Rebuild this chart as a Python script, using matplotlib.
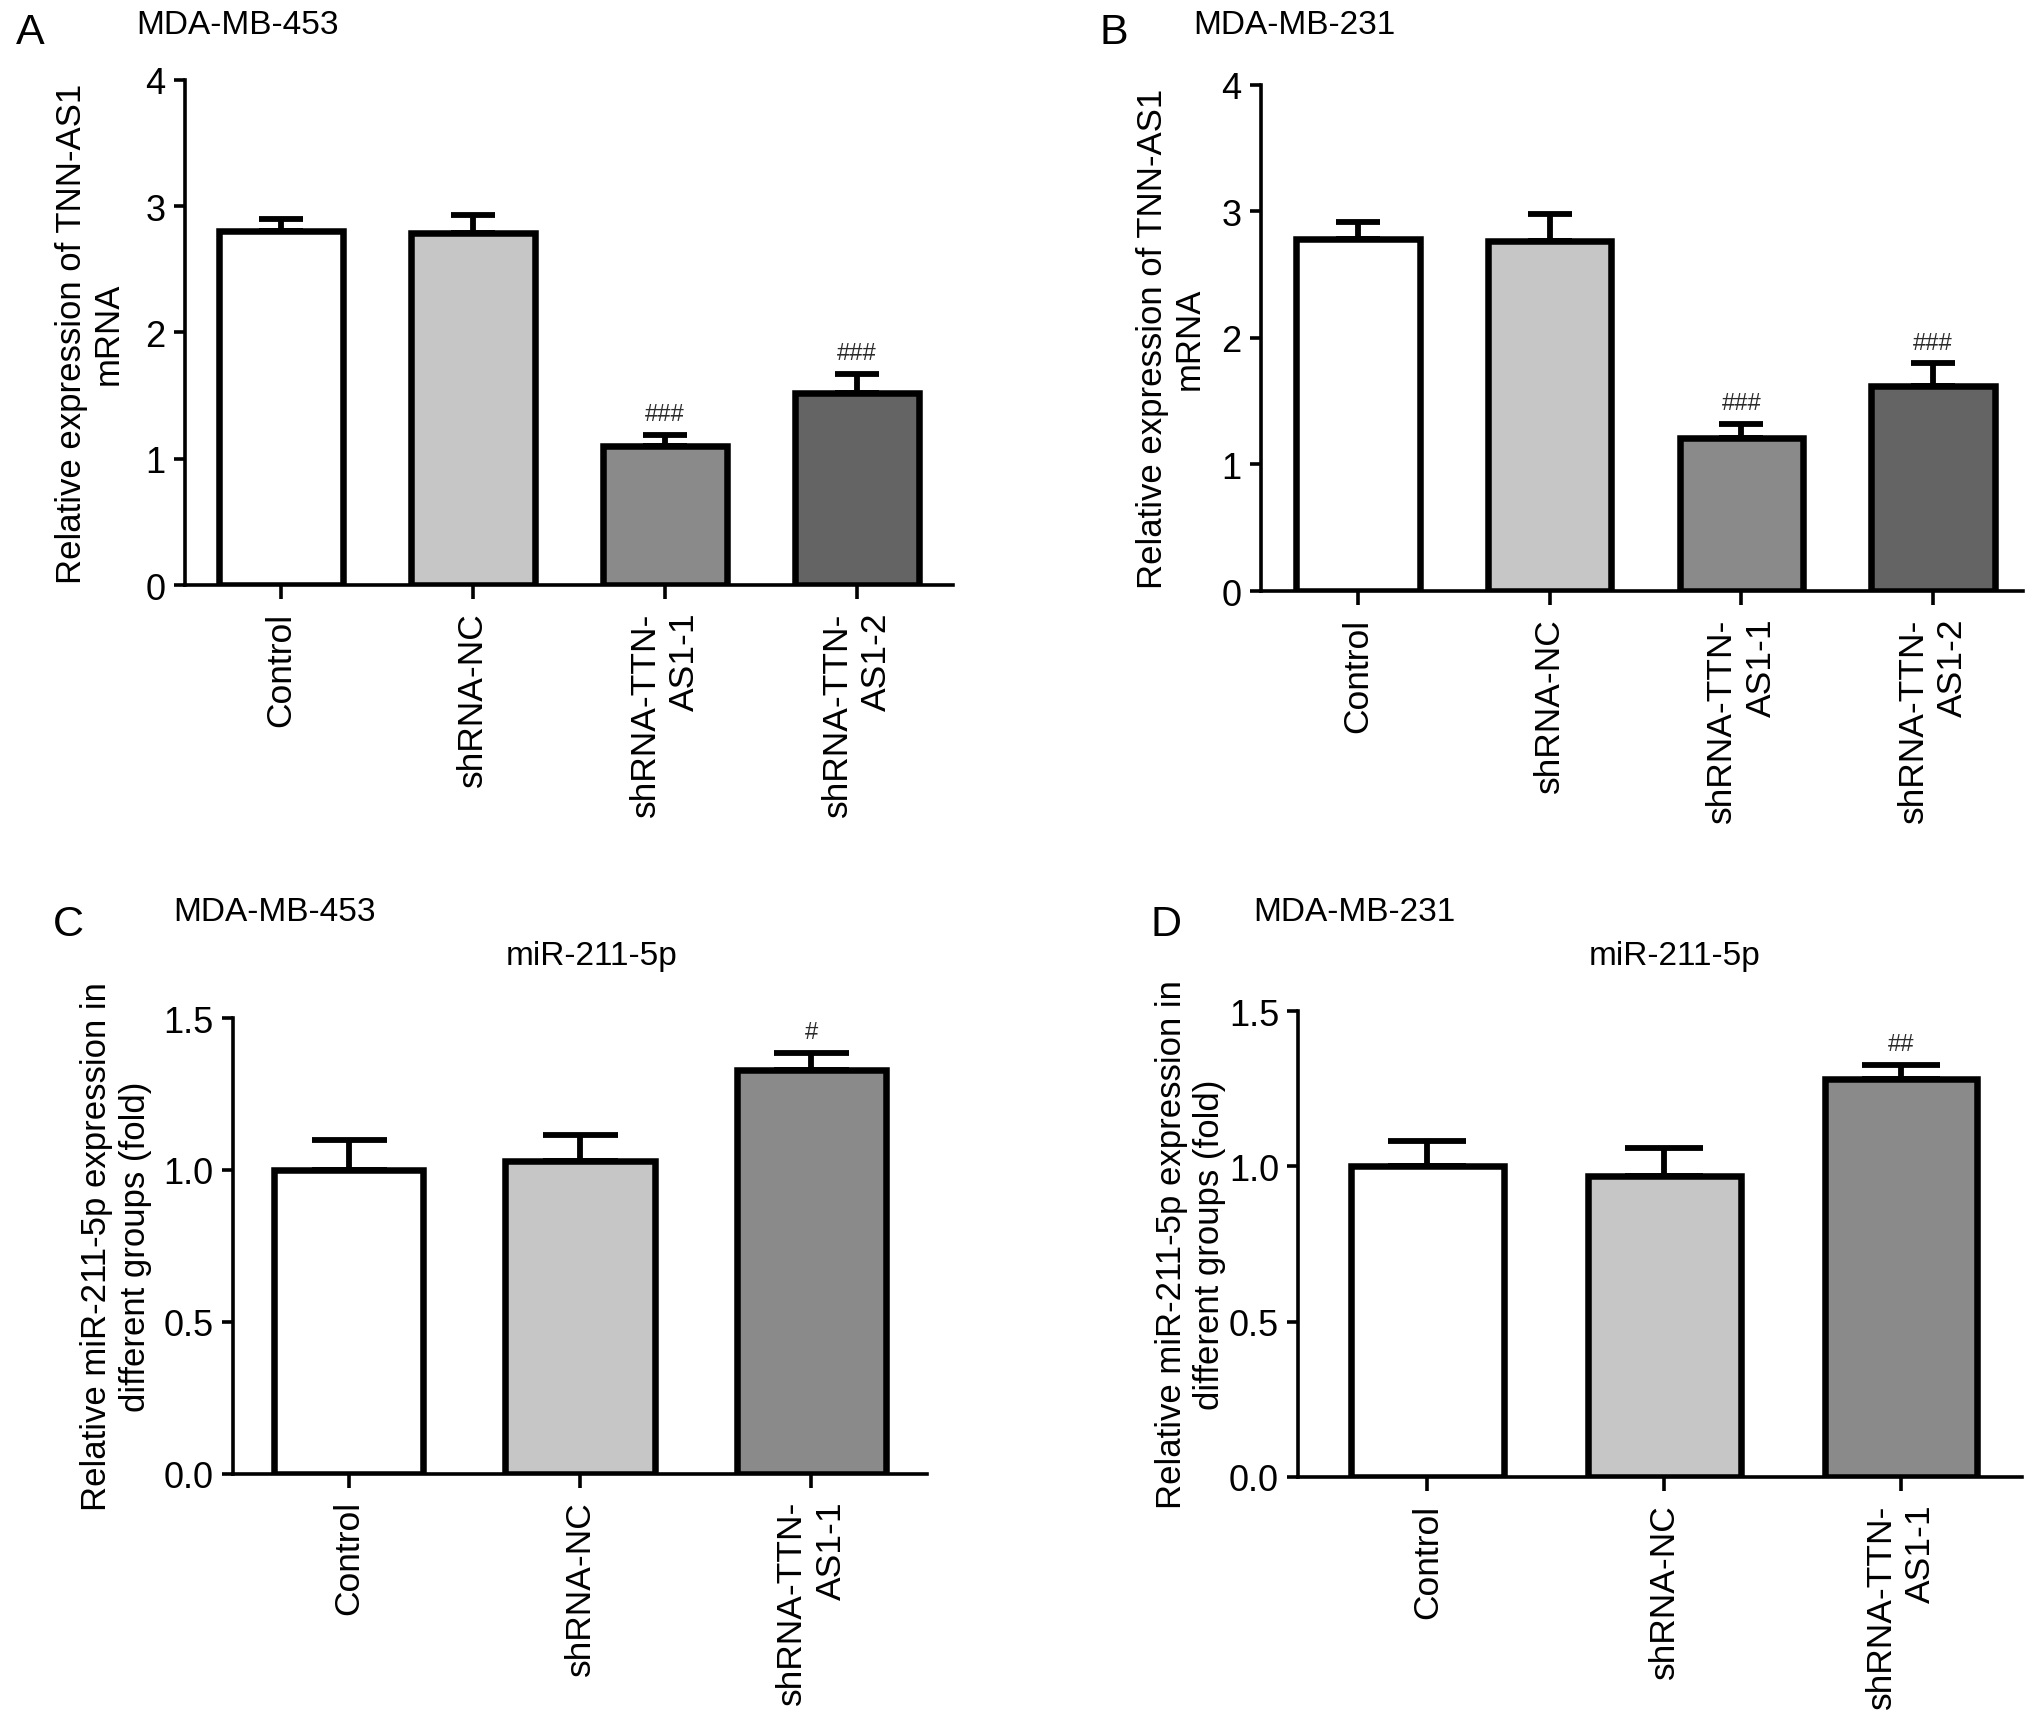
import matplotlib
matplotlib.use("Agg")
import matplotlib.pyplot as plt

plt.rcParams['font.family'] = ['Liberation Sans', 'DejaVu Sans']

# panel A / B: TNN-AS1 mRNA
groups4 = ['Control', 'shRNA-NC', 'shRNA-TTN-\nAS1-1', 'shRNA-TTN-\nAS1-2']
a_vals = [2.80, 2.79, 1.10, 1.52]
a_err = [0.10, 0.14, 0.09, 0.15]
a_marks = ['', '', '###', '###']
b_vals = [2.78, 2.77, 1.21, 1.62]
b_err = [0.14, 0.21, 0.11, 0.18]
b_marks = ['', '', '###', '###']

# panel C / D: miR-211-5p
groups3 = ['Control', 'shRNA-NC', 'shRNA-TTN-\nAS1-1']
c_vals = [1.00, 1.03, 1.33]
c_err = [0.10, 0.085, 0.055]
c_marks = ['', '', '#']
d_vals = [1.00, 0.97, 1.28]
d_err = [0.08, 0.09, 0.046]
d_marks = ['', '', '##']

colors4 = ['#ffffff', '#c6c6c6', '#8a8a8a', '#646464']
colors3 = ['#ffffff', '#c6c6c6', '#8a8a8a']

fig = plt.figure(figsize=(20.32, 17.15), dpi=100)


def draw_panel(rect, names, vals, err, marks, colors, ymax, yticks, ytlabels, ylabel,
               xlim, labx, capsize, lab_ls):
    ax = fig.add_axes(rect)
    x = list(range(len(vals)))
    ax.bar(x, vals, width=0.645, color=colors, edgecolor='black', linewidth=4.7, zorder=3)
    ax.errorbar(x, vals, yerr=[[0] * len(vals), err], fmt='none', ecolor='black',
                elinewidth=4.2, capsize=capsize, capthick=4.2, zorder=2)
    for xi, v, e, m in zip(x, vals, err, marks):
        if m:
            ax.annotate(m, (xi, v + e), xytext=(0, 7), textcoords='offset points',
                        ha='center', va='bottom', fontsize=17, color='#2a2a2a')
    ax.set_xlim(*xlim)
    ax.set_ylim(0, ymax)
    ax.set_yticks(yticks)
    ax.set_yticklabels(ytlabels)
    ax.set_xticks(x)
    ax.set_xticklabels(names, rotation=90, va='top', ha='center',
                       multialignment='right', linespacing=1.25, fontsize=25.5)
    ax.tick_params(axis='y', labelsize=26, length=8, width=2.6, pad=6)
    ax.tick_params(axis='x', length=10, width=2.6, pad=9)
    for s in ['top', 'right']:
        ax.spines[s].set_visible(False)
    for s in ['left', 'bottom']:
        ax.spines[s].set_linewidth(2.6)
    ax.set_ylabel(ylabel, fontsize=25, linespacing=lab_ls)
    ax.yaxis.set_label_coords(labx, 0.5)
    return ax


draw_panel([0.0910, 0.6583, 0.378, 0.2945], groups4, a_vals, a_err, a_marks, colors4,
           4, [0, 1, 2, 3, 4], ['0', '1', '2', '3', '4'],
           'Relative expression of TNN-AS1\nmRNA',
           (-0.5, 3.5), -0.078, 16, 1.15)
draw_panel([0.6206, 0.6548, 0.375, 0.2951], groups4, b_vals, b_err, b_marks, colors4,
           4, [0, 1, 2, 3, 4], ['0', '1', '2', '3', '4'],
           'Relative expression of TNN-AS1\nmRNA',
           (-0.506, 3.47), -0.072, 16, 1.15)
draw_panel([0.1147, 0.1402, 0.3415, 0.2656], groups3, c_vals, c_err, c_marks, colors3,
           1.5, [0.0, 0.5, 1.0, 1.5], ['0.0', '0.5', '1.0', '1.5'],
           'Relative miR-211-5p expression in\ndifferent groups (fold)',
           (-0.5, 2.5), -0.117, 27, 1.22)
draw_panel([0.639, 0.1382, 0.356, 0.2717], groups3, d_vals, d_err, d_marks, colors3,
           1.5, [0.0, 0.5, 1.0, 1.5], ['0.0', '0.5', '1.0', '1.5'],
           'Relative miR-211-5p expression in\ndifferent groups (fold)',
           (-0.545, 2.51), -0.0996, 28, 1.22)

# panel letters and titles
fig.text(0.0148, 0.981, 'A', fontsize=31, ha='center', va='center')
fig.text(0.0669, 0.9854, 'MDA-MB-453', fontsize=24, ha='left', va='center')
fig.text(0.548, 0.981, 'B', fontsize=31, ha='center', va='center')
fig.text(0.587, 0.9854, 'MDA-MB-231', fontsize=24, ha='left', va='center')
fig.text(0.0335, 0.4606, 'C', fontsize=31, ha='center', va='center')
fig.text(0.0851, 0.4682, 'MDA-MB-453', fontsize=24, ha='left', va='center')
fig.text(0.291, 0.442, 'miR-211-5p', fontsize=24, ha='center', va='center')
fig.text(0.574, 0.4606, 'D', fontsize=31, ha='center', va='center')
fig.text(0.617, 0.4682, 'MDA-MB-231', fontsize=24, ha='left', va='center')
fig.text(0.824, 0.442, 'miR-211-5p', fontsize=24, ha='center', va='center')

fig.savefig('out.png', dpi=100, facecolor='white')
